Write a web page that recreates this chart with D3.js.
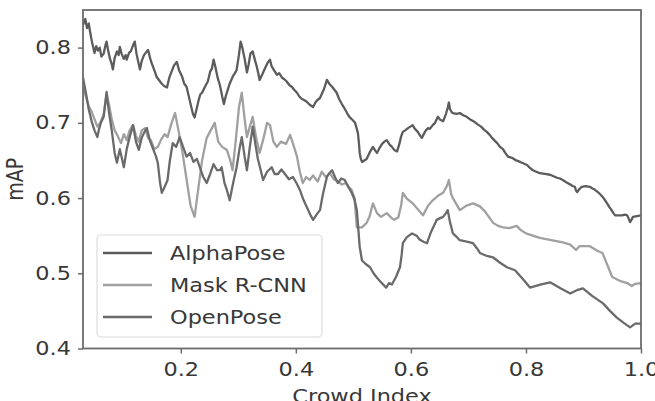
<!DOCTYPE html>
<html>
<head>
<meta charset="utf-8">
<script src="https://cdn.jsdelivr.net/npm/d3@7"></script>
<style>
  html, body { margin: 0; padding: 0; background: #fff; }
  text { font-family: "DejaVu Sans", sans-serif; fill: #383838; }
</style>
</head>
<body>
<div id="figure_area"></div>
<script>
// ----- ----- ----- ----- ----- ----- ----- ----- -----
// DATA  (crowd index, mAP)
var seriesNames = ["AlphaPose", "Mask R-CNN", "OpenPose"];
var seriesColors = ["#5c5c5c", "#a0a0a0", "#6a6a6a"];

var alphaPose = [
  [0.030,0.830],[0.034,0.838],[0.037,0.826],[0.040,0.832],[0.043,0.818],[0.046,0.806],[0.050,0.793],[0.053,0.802],
  [0.056,0.796],[0.059,0.800],[0.062,0.788],[0.066,0.792],[0.069,0.803],[0.071,0.808],[0.074,0.795],[0.077,0.785],
  [0.080,0.778],[0.082,0.771],[0.085,0.786],[0.089,0.795],[0.092,0.790],[0.094,0.801],[0.097,0.792],[0.101,0.785],
  [0.104,0.790],[0.106,0.784],[0.110,0.793],[0.113,0.795],[0.117,0.803],[0.120,0.808],[0.123,0.792],[0.125,0.785],
  [0.129,0.771],[0.132,0.782],[0.136,0.790],[0.140,0.794],[0.143,0.797],[0.147,0.785],[0.150,0.778],[0.154,0.770],
  [0.158,0.761],[0.162,0.757],[0.167,0.752],[0.171,0.749],[0.176,0.747],[0.180,0.760],[0.184,0.768],[0.188,0.776],
  [0.193,0.781],[0.197,0.770],[0.202,0.762],[0.206,0.752],[0.210,0.748],[0.214,0.735],[0.217,0.725],[0.221,0.712],
  [0.224,0.707],[0.228,0.720],[0.231,0.730],[0.234,0.738],[0.237,0.740],[0.242,0.748],[0.247,0.755],[0.251,0.768],
  [0.254,0.772],[0.257,0.784],[0.260,0.775],[0.264,0.760],[0.268,0.750],[0.272,0.735],[0.275,0.725],[0.278,0.735],
  [0.280,0.740],[0.285,0.752],[0.290,0.761],[0.294,0.766],[0.297,0.770],[0.301,0.790],[0.304,0.808],[0.307,0.800],
  [0.311,0.785],[0.315,0.767],[0.318,0.778],[0.321,0.792],[0.325,0.795],[0.329,0.783],[0.332,0.775],[0.335,0.765],
  [0.337,0.757],[0.342,0.765],[0.346,0.772],[0.351,0.780],[0.355,0.784],[0.358,0.775],[0.362,0.770],[0.367,0.764],
  [0.371,0.766],[0.376,0.760],[0.380,0.758],[0.384,0.755],[0.389,0.750],[0.393,0.748],[0.397,0.744],[0.402,0.740],
  [0.406,0.735],[0.410,0.732],[0.415,0.730],[0.419,0.728],[0.424,0.724],[0.430,0.721],[0.434,0.727],[0.437,0.730],
  [0.442,0.733],[0.446,0.740],[0.449,0.745],[0.452,0.752],[0.454,0.757],[0.458,0.752],[0.463,0.748],[0.467,0.744],
  [0.471,0.740],[0.475,0.732],[0.480,0.725],[0.484,0.720],[0.489,0.713],[0.493,0.708],[0.497,0.705],[0.503,0.700],
  [0.506,0.692],[0.508,0.686],[0.510,0.670],[0.511,0.660],[0.513,0.652],[0.515,0.648],[0.519,0.650],[0.523,0.652],
  [0.528,0.660],[0.531,0.664],[0.534,0.668],[0.538,0.663],[0.541,0.660],[0.545,0.666],[0.550,0.672],[0.554,0.675],
  [0.558,0.677],[0.563,0.671],[0.567,0.668],[0.571,0.664],[0.576,0.662],[0.580,0.672],[0.583,0.682],[0.586,0.688],
  [0.590,0.690],[0.595,0.693],[0.599,0.695],[0.603,0.697],[0.607,0.692],[0.612,0.688],[0.616,0.683],[0.619,0.680],
  [0.623,0.686],[0.626,0.690],[0.630,0.693],[0.633,0.692],[0.638,0.697],[0.642,0.700],[0.645,0.705],[0.647,0.708],
  [0.651,0.704],[0.656,0.702],[0.659,0.708],[0.661,0.712],[0.664,0.720],[0.666,0.727],[0.668,0.718],[0.671,0.714],
  [0.673,0.713],[0.679,0.712],[0.685,0.713],[0.691,0.710],[0.697,0.708],[0.704,0.704],[0.711,0.701],[0.716,0.698],
  [0.722,0.695],[0.727,0.691],[0.732,0.688],[0.737,0.684],[0.741,0.680],[0.746,0.676],[0.750,0.673],[0.755,0.668],
  [0.760,0.665],[0.764,0.660],[0.769,0.655],[0.773,0.654],[0.777,0.653],[0.783,0.650],[0.790,0.648],[0.796,0.646],
  [0.802,0.644],[0.807,0.640],[0.812,0.637],[0.818,0.635],[0.824,0.633],[0.833,0.632],[0.842,0.631],[0.848,0.629],
  [0.854,0.627],[0.859,0.626],[0.864,0.624],[0.870,0.621],[0.877,0.618],[0.881,0.616],[0.885,0.615],[0.887,0.610],
  [0.889,0.608],[0.893,0.612],[0.897,0.615],[0.904,0.616],[0.911,0.615],[0.915,0.613],[0.920,0.611],[0.925,0.608],
  [0.929,0.605],[0.935,0.600],[0.941,0.593],[0.945,0.588],[0.948,0.585],[0.952,0.580],[0.955,0.577],[0.961,0.577],
  [0.967,0.577],[0.972,0.578],[0.976,0.577],[0.979,0.572],[0.981,0.568],[0.984,0.572],[0.986,0.575],[0.993,0.576],
  [1.000,0.577]
];

var maskRcnn = [
  [0.030,0.745],[0.035,0.735],[0.040,0.722],[0.045,0.715],[0.050,0.705],[0.055,0.695],[0.060,0.700],[0.066,0.712],
  [0.071,0.738],[0.075,0.725],[0.080,0.705],[0.085,0.690],[0.090,0.683],[0.096,0.673],[0.101,0.685],[0.106,0.677],
  [0.111,0.690],[0.117,0.697],[0.122,0.683],[0.127,0.675],[0.132,0.690],[0.138,0.693],[0.143,0.680],[0.148,0.677],
  [0.154,0.665],[0.160,0.668],[0.166,0.678],[0.172,0.685],[0.177,0.681],[0.184,0.700],[0.190,0.713],[0.196,0.690],
  [0.203,0.660],[0.210,0.625],[0.217,0.590],[0.224,0.575],[0.230,0.610],[0.237,0.650],[0.245,0.680],[0.252,0.690],
  [0.259,0.700],[0.265,0.675],[0.272,0.668],[0.280,0.664],[0.286,0.650],[0.290,0.637],[0.296,0.680],[0.301,0.720],
  [0.306,0.740],[0.311,0.705],[0.315,0.681],[0.320,0.695],[0.325,0.708],[0.331,0.680],[0.337,0.660],[0.344,0.680],
  [0.350,0.700],[0.355,0.697],[0.361,0.675],[0.367,0.668],[0.374,0.675],[0.383,0.672],[0.390,0.684],[0.396,0.670],
  [0.402,0.655],[0.407,0.635],[0.412,0.620],[0.418,0.628],[0.424,0.624],[0.430,0.630],[0.438,0.622],[0.445,0.635],
  [0.452,0.628],[0.459,0.633],[0.466,0.625],[0.473,0.622],[0.480,0.618],[0.487,0.620],[0.493,0.614],[0.497,0.611],
  [0.502,0.600],[0.506,0.561],[0.515,0.561],[0.523,0.567],[0.528,0.575],[0.534,0.593],[0.541,0.580],[0.548,0.575],
  [0.558,0.580],[0.567,0.573],[0.571,0.571],[0.578,0.574],[0.583,0.590],[0.586,0.607],[0.592,0.600],[0.603,0.593],
  [0.612,0.585],[0.621,0.577],[0.630,0.590],[0.638,0.597],[0.647,0.603],[0.656,0.607],[0.662,0.615],[0.666,0.624],
  [0.670,0.605],[0.673,0.600],[0.685,0.584],[0.697,0.590],[0.708,0.593],[0.720,0.589],[0.729,0.582],[0.743,0.567],
  [0.752,0.563],[0.760,0.561],[0.771,0.560],[0.784,0.563],[0.790,0.558],[0.800,0.553],[0.812,0.550],[0.824,0.547],
  [0.844,0.544],[0.864,0.541],[0.877,0.538],[0.887,0.531],[0.893,0.536],[0.911,0.536],[0.924,0.530],[0.933,0.527],
  [0.941,0.512],[0.950,0.495],[0.963,0.490],[0.976,0.487],[0.984,0.483],[0.990,0.486],[1.000,0.487]
];

var openPose = [
  [0.030,0.760],[0.035,0.740],[0.040,0.718],[0.045,0.702],[0.050,0.690],[0.055,0.681],[0.058,0.692],[0.061,0.700],
  [0.066,0.708],[0.071,0.741],[0.075,0.715],[0.080,0.690],[0.083,0.672],[0.085,0.660],[0.089,0.647],[0.094,0.665],
  [0.097,0.655],[0.101,0.641],[0.106,0.665],[0.111,0.681],[0.117,0.697],[0.122,0.675],[0.127,0.664],[0.132,0.680],
  [0.137,0.688],[0.141,0.693],[0.146,0.677],[0.152,0.665],[0.157,0.655],[0.160,0.647],[0.164,0.620],[0.167,0.607],
  [0.172,0.615],[0.177,0.624],[0.181,0.650],[0.186,0.673],[0.192,0.668],[0.198,0.681],[0.204,0.668],[0.210,0.655],
  [0.216,0.660],[0.222,0.648],[0.228,0.652],[0.233,0.641],[0.239,0.628],[0.245,0.620],[0.251,0.632],[0.257,0.645],
  [0.263,0.637],[0.268,0.637],[0.271,0.641],[0.276,0.620],[0.280,0.611],[0.285,0.597],[0.291,0.620],[0.297,0.641],
  [0.302,0.665],[0.306,0.681],[0.311,0.655],[0.315,0.637],[0.320,0.668],[0.325,0.695],[0.330,0.670],[0.334,0.652],
  [0.338,0.640],[0.343,0.624],[0.350,0.635],[0.358,0.641],[0.363,0.632],[0.369,0.632],[0.375,0.638],[0.381,0.632],
  [0.388,0.625],[0.395,0.628],[0.401,0.620],[0.407,0.611],[0.413,0.598],[0.419,0.588],[0.425,0.578],[0.430,0.571],
  [0.436,0.578],[0.442,0.584],[0.447,0.605],[0.454,0.628],[0.458,0.633],[0.463,0.637],[0.468,0.628],[0.473,0.620],
  [0.479,0.626],[0.485,0.624],[0.491,0.615],[0.497,0.607],[0.502,0.598],[0.506,0.584],[0.509,0.555],[0.511,0.535],
  [0.515,0.517],[0.522,0.512],[0.529,0.508],[0.535,0.500],[0.540,0.495],[0.548,0.488],[0.557,0.481],[0.562,0.487],
  [0.567,0.485],[0.574,0.495],[0.581,0.508],[0.584,0.525],[0.586,0.540],[0.593,0.548],[0.602,0.553],[0.610,0.550],
  [0.615,0.545],[0.622,0.542],[0.628,0.540],[0.635,0.555],[0.645,0.571],[0.650,0.573],[0.656,0.575],[0.661,0.580],
  [0.664,0.584],[0.668,0.568],[0.673,0.553],[0.680,0.548],[0.685,0.544],[0.697,0.542],[0.708,0.540],[0.715,0.533],
  [0.720,0.527],[0.732,0.523],[0.743,0.521],[0.755,0.514],[0.767,0.508],[0.781,0.504],[0.795,0.492],[0.807,0.481],
  [0.825,0.485],[0.842,0.488],[0.860,0.480],[0.877,0.473],[0.890,0.478],[0.899,0.480],[0.915,0.470],[0.934,0.460],
  [0.946,0.450],[0.958,0.441],[0.970,0.434],[0.981,0.428],[0.990,0.433],[1.000,0.433]
];

var x_ticks = [0.2, 0.4, 0.6, 0.8, 1.0];
var y_ticks = [0.4, 0.5, 0.6, 0.7, 0.8];

// ----- ----- ----- ----- ----- ----- ----- ----- -----
// FIGURE
const graph_domain = { x_min: 0.03, x_max: 1.0, y_min: 0.4, y_max: 0.85 };
const figure_size = { width: 655, height: 401 };
const plot = { left: 83, right: 641, top: 10, bottom: 348.5 };
const stretch = 1.18;   // text in the picture is wider than it is tall

var svg = d3.select("#figure_area")
    .append("svg")
    .attr("width", figure_size.width)
    .attr("height", figure_size.height);

var x_scale = d3.scaleLinear()
    .domain([graph_domain.x_min, graph_domain.x_max])
    .range([plot.left, plot.right]);

var y_scale = d3.scaleLinear()
    .domain([graph_domain.y_min, graph_domain.y_max])
    .range([plot.bottom, plot.top]);

svg.append("clipPath").attr("id", "plot-clip")
    .append("rect")
    .attr("x", plot.left).attr("y", plot.top)
    .attr("width", plot.right - plot.left)
    .attr("height", plot.bottom - plot.top);

// lines
var line = d3.line()
    .x(function (d) { return x_scale(d[0]) })
    .y(function (d) { return y_scale(d[1]) });

var allSeries = [alphaPose, maskRcnn, openPose];
allSeries.forEach(function (data, i) {
    svg.append("path")
        .datum(data)
        .attr("clip-path", "url(#plot-clip)")
        .attr("fill", "none")
        .attr("stroke", seriesColors[i])
        .attr("stroke-width", 2.3)
        .attr("stroke-linejoin", "round")
        .attr("d", line);
});

// frame
svg.append("rect")
    .attr("x", plot.left).attr("y", plot.top)
    .attr("width", plot.right - plot.left)
    .attr("height", plot.bottom - plot.top)
    .attr("fill", "none")
    .attr("stroke", "#6c6c6c")
    .attr("stroke-width", 1.8);

// axes
var x_axis = d3.axisBottom(x_scale)
    .tickValues(x_ticks)
    .tickSize(5)
    .tickPadding(9)
    .tickFormat(d3.format(".1f"));

var y_axis = d3.axisLeft(y_scale)
    .tickValues(y_ticks)
    .tickSize(5)
    .tickPadding(7)
    .tickFormat(d3.format(".1f"));

var gx = svg.append("g")
    .attr("transform", "translate(0," + plot.bottom + ")")
    .call(x_axis);
var gy = svg.append("g")
    .attr("transform", "translate(" + plot.left + ",0)")
    .call(y_axis);

[gx, gy].forEach(function (g) {
    g.select(".domain").remove();
    g.selectAll(".tick line").attr("stroke", "#6c6c6c").attr("stroke-width", 1.5);
    g.selectAll(".tick text")
        .attr("font-family", "DejaVu Sans")
        .attr("font-size", 19)
        .attr("fill", "#383838")
        .each(function () {
            var t = d3.select(this);
            var x = +t.attr("x") || 0;
            t.attr("x", 0).attr("transform", "translate(" + x + ",0) scale(" + stretch + ",1)");
        });
});

// axis labels
svg.append("text")
    .attr("text-anchor", "middle")
    .attr("font-size", 19)
    .attr("transform", "translate(" + ((plot.left + plot.right) / 2) + ",403) scale(" + stretch + ",1)")
    .text("Crowd Index");

svg.append("text")
    .attr("text-anchor", "middle")
    .attr("font-size", 19)
    .attr("transform", "translate(23," + ((plot.top + plot.bottom) / 2) + ") scale(" + stretch + ",1) rotate(-90)")
    .text("mAP");

// legend
var legend = svg.append("g");
legend.append("rect")
    .attr("x", 97).attr("y", 235)
    .attr("width", 225).attr("height", 102)
    .attr("rx", 4)
    .attr("fill", "#fff")
    .attr("fill-opacity", 0.85)
    .attr("stroke", "#dcdcdc")
    .attr("stroke-width", 1.2);

seriesNames.forEach(function (name, i) {
    var yy = 253 + i * 32;
    legend.append("line")
        .attr("x1", 103).attr("x2", 152)
        .attr("y1", yy).attr("y2", yy)
        .attr("stroke", seriesColors[i])
        .attr("stroke-width", 2.3);
    legend.append("text")
        .attr("font-size", 19)
        .attr("dy", "0.36em")
        .attr("transform", "translate(170," + yy + ") scale(" + stretch + ",1)")
        .text(name);
});
</script>
</body>
</html>
